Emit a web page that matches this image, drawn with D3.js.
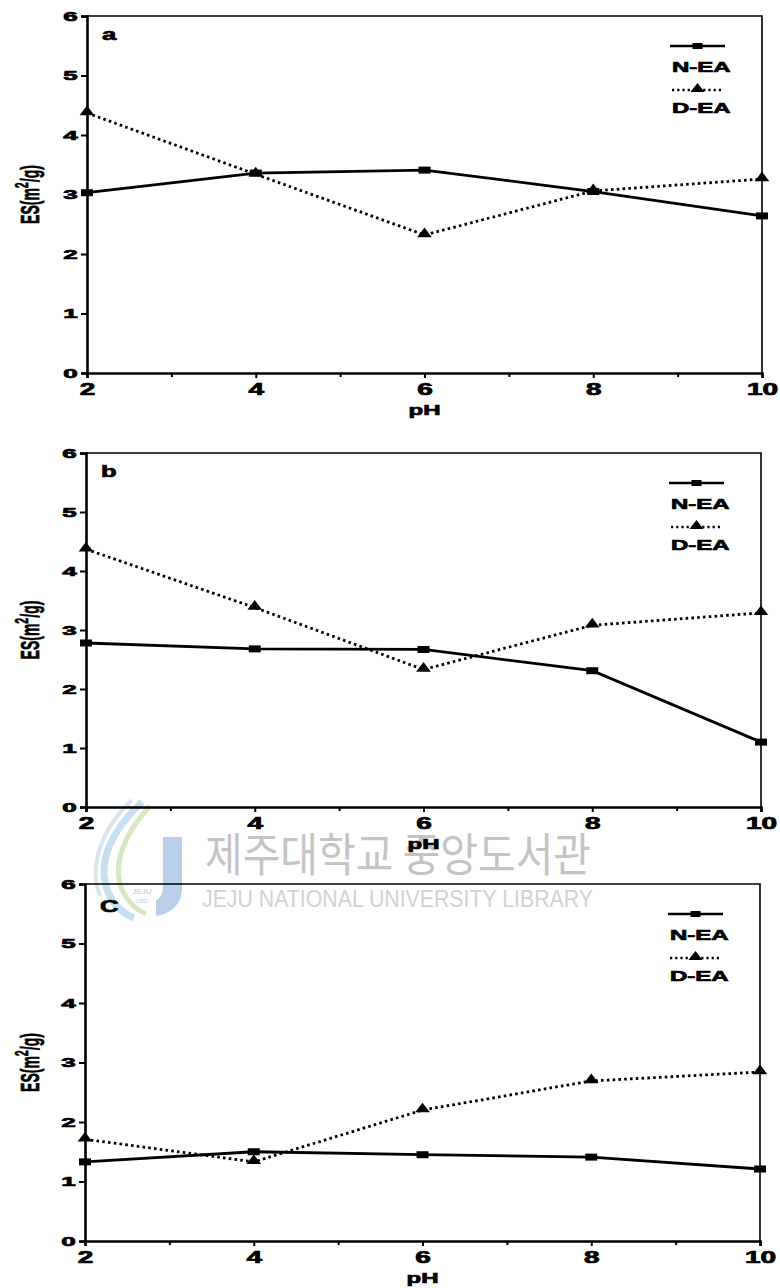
<!DOCTYPE html>
<html><head><meta charset="utf-8">
<script src="https://cdn.jsdelivr.net/npm/d3@7"></script>
<style>
body{margin:0;background:#fff}
svg{font-family:"Liberation Sans",Arial,sans-serif;font-weight:700}
.heavy{stroke:#000;stroke-width:0.7px;paint-order:stroke}
</style>
</head><body><svg id="chart" width="780" height="1288"></svg>
<script>
// ---- data ----
const pH = [2, 4, 6, 8, 10];
const minorPH = [3, 5, 7, 9];
const yTicks = [0, 1, 2, 3, 4, 5, 6];
const panelLabels = ["a", "b", "C"];
const seriesNames = ["N-EA", "D-EA"];
const neaA = [3.03, 3.36, 3.41, 3.05, 2.64];
const deaA = [4.37, 3.34, 2.32, 3.06, 3.26];
const neaB = [2.78, 2.68, 2.67, 2.31, 1.10];
const deaB = [4.37, 3.38, 2.33, 3.08, 3.29];
const neaC = [1.33, 1.50, 1.45, 1.41, 1.21];
const deaC = [1.71, 1.33, 2.20, 2.69, 2.84];
const xTitle = "pH";
const watermarkKo = "제주대학교 중앙도서관";
const watermarkEn = "JEJU NATIONAL UNIVERSITY  LIBRARY";

const panels = [
  {top: 16, bottom: 373, left: 87, right: 762, nea: neaA, dea: deaA},
  {top: 453, bottom: 807, left: 86, right: 761, nea: neaB, dea: deaB},
  {top: 884, bottom: 1241, left: 85, right: 760, nea: neaC, dea: deaC}
];

const svg = d3.select("#chart");

function stext(parent, x, y, str, size, sx, anchor, sy) {
  const g = parent.append("g").attr("transform", `translate(${x},${y})`);
  const t = g.append("text")
    .attr("class", "heavy")
    .attr("transform", `scale(${sx},${sy || 1})`)
    .attr("text-anchor", anchor || "start")
    .style("font-size", size + "px")
    .attr("fill", "#000")
    .text(str);
  return t;
}

// ---- watermark (under chart) ----
const wm = svg.append("g").attr("class", "watermark");
wm.append("path").attr("d", "M142,802 C112,830 96,862 108,892 C114,906 124,914 134,918")
  .attr("fill", "none").attr("stroke", "#c6e0f0").attr("stroke-width", 7);
wm.append("path").attr("d", "M150,806 C124,834 112,864 122,890 C128,902 136,910 146,914")
  .attr("fill", "none").attr("stroke", "#d6e8bf").attr("stroke-width", 5);
wm.append("path").attr("d", "M132,800 C102,828 88,866 100,896")
  .attr("fill", "none").attr("stroke", "#d9e6ee").attr("stroke-width", 4);
wm.append("path").attr("d", "M163,837 L182,837 L182,888 C182,905 170,914 156,916 L156,900 C161,898 163,893 163,886 Z")
  .attr("fill", "#b9cfe8");
wm.append("text").attr("x", 142).attr("y", 894).attr("text-anchor", "middle")
  .style("font-size", "8px").style("font-weight", 400).attr("fill", "#c8c8c8").text("JEJU");
wm.append("text").attr("x", 142).attr("y", 903).attr("text-anchor", "middle")
  .style("font-size", "6px").style("font-weight", 400).attr("fill", "#cccccc").text("1952");
wm.append("text").attr("x", 205).attr("y", 871)
  .attr("textLength", 386).attr("lengthAdjust", "spacingAndGlyphs")
  .style("font-family", "'Noto Sans CJK KR',sans-serif").style("font-weight", 400)
  .style("font-size", "46px").attr("fill", "#c4c4c4").text(watermarkKo);
wm.append("text").attr("x", 202).attr("y", 907)
  .attr("textLength", 391).attr("lengthAdjust", "spacingAndGlyphs")
  .style("font-family", "'Liberation Sans',sans-serif").style("font-weight", 400)
  .style("font-size", "23px").attr("fill", "#d2d2d2").text(watermarkEn);

// ---- panels ----
panels.forEach((p, i) => {
  const g = svg.append("g");
  const x = d3.scaleLinear().domain([2, 10]).range([p.left, p.right]);
  const y = d3.scaleLinear().domain([0, 6]).range([p.bottom, p.top]);

  // frame (top & right thinner)
  g.append("path")
    .attr("d", `M${p.left},${p.top}H${p.right}V${p.bottom}`)
    .attr("fill", "none").attr("stroke", "#000").attr("stroke-width", 1.6);

  // y axis
  const ya = g.append("g").attr("transform", `translate(${p.left},0)`)
    .call(d3.axisLeft(y).tickValues(yTicks).tickSize(6).tickFormat(d3.format("d")));
  ya.select(".domain").attr("stroke-width", 2.6);
  ya.selectAll(".tick line").attr("stroke-width", 2);
  ya.selectAll(".tick text")
    .attr("class", "heavy")
    .attr("x", 0).attr("dy", "0.36em").attr("text-anchor", "middle")
    .attr("transform", "translate(-16.5,0) scale(2.0,0.95)")
    .style("font-size", "13px").style("font-family", "'Liberation Sans',Arial,sans-serif")
    .style("font-weight", 700).attr("fill", "#000");

  // x axis (major)
  const xa = g.append("g").attr("transform", `translate(0,${p.bottom})`)
    .call(d3.axisBottom(x).tickValues(pH).tickSize(5).tickFormat(d3.format("d")));
  xa.select(".domain").attr("stroke-width", 2.6);
  xa.selectAll(".tick line").attr("stroke-width", 2);
  xa.selectAll(".tick text")
    .attr("class", "heavy")
    .attr("y", 0).attr("dy", 0)
    .attr("transform", "translate(0,22) scale(1.75,1)")
    .style("font-size", "16px").style("font-family", "'Liberation Sans',Arial,sans-serif")
    .style("font-weight", 700).attr("fill", "#000");
  // minor ticks
  const xm = g.append("g").attr("transform", `translate(0,${p.bottom})`)
    .call(d3.axisBottom(x).tickValues(minorPH).tickSize(4).tickFormat(""));
  xm.select(".domain").remove();
  xm.selectAll(".tick line").attr("stroke-width", 2);

  // axis titles
  stext(g, (p.left + p.right) / 2, p.bottom + 42, xTitle, 15, 1.6, "middle");
  const yl = g.append("g")
    .attr("transform", `translate(39,${(p.top + p.bottom) / 2}) rotate(-90) scale(0.56,1)`)
    .append("text").attr("class", "heavy").attr("text-anchor", "middle")
    .style("font-size", "25px").attr("fill", "#000");
  yl.append("tspan").text("ES(m");
  yl.append("tspan").attr("dy", -11).style("font-size", "19px").text("2");
  yl.append("tspan").attr("dy", 11).text("/g)");

  // panel letter
  stext(g, p.left + 15, p.top + (i === 2 ? 28 : 24), panelLabels[i], 16, 1.6, "start");

  // lines
  const line = d3.line().x((d, k) => x(pH[k])).y(d => y(d));
  g.append("path").datum(p.dea).attr("d", line)
    .attr("fill", "none").attr("stroke", "#000").attr("stroke-width", 2.8)
    .attr("stroke-dasharray", "2.6,3.2");
  g.append("path").datum(p.nea).attr("d", line)
    .attr("fill", "none").attr("stroke", "#000").attr("stroke-width", 2.8);

  // markers
  g.selectAll(".sq").data(p.nea).enter().append("rect")
    .attr("x", (d, k) => x(pH[k]) - 6).attr("y", d => y(d) - 3.5)
    .attr("width", 12).attr("height", 7).attr("fill", "#000");
  const tri = d3.symbol().type(d3.symbolTriangle).size(60);
  g.selectAll(".tri").data(p.dea).enter().append("path")
    .attr("d", tri).attr("transform", (d, k) => `translate(${x(pH[k])},${y(d) - 1}) scale(1.25,0.95)`)
    .attr("fill", "#000");

  // legend
  const lx0 = p.right - 92, lx1 = p.right - 37, lmid = (lx0 + lx1) / 2;
  const l1 = p.top + 30, l2 = p.top + 74;
  g.append("line").attr("x1", lx0).attr("x2", lx1).attr("y1", l1).attr("y2", l1)
    .attr("stroke", "#000").attr("stroke-width", 2.6);
  g.append("rect").attr("x", lmid - 5).attr("y", l1 - 3).attr("width", 10).attr("height", 6).attr("fill", "#000");
  stext(g, lx0 + 2, p.top + 56, seriesNames[0], 15, 1.6, "start");
  g.append("line").attr("x1", lx0 + 2).attr("x2", lx1 - 2).attr("y1", l2).attr("y2", l2)
    .attr("stroke", "#000").attr("stroke-width", 2.6).attr("stroke-dasharray", "2.2,3");
  g.append("path").attr("d", tri).attr("transform", `translate(${lmid},${l2 - 1}) scale(1.2,0.9)`).attr("fill", "#000");
  stext(g, lx0 + 2, p.top + 97, seriesNames[1], 15, 1.6, "start");
});
</script>
</body></html>
